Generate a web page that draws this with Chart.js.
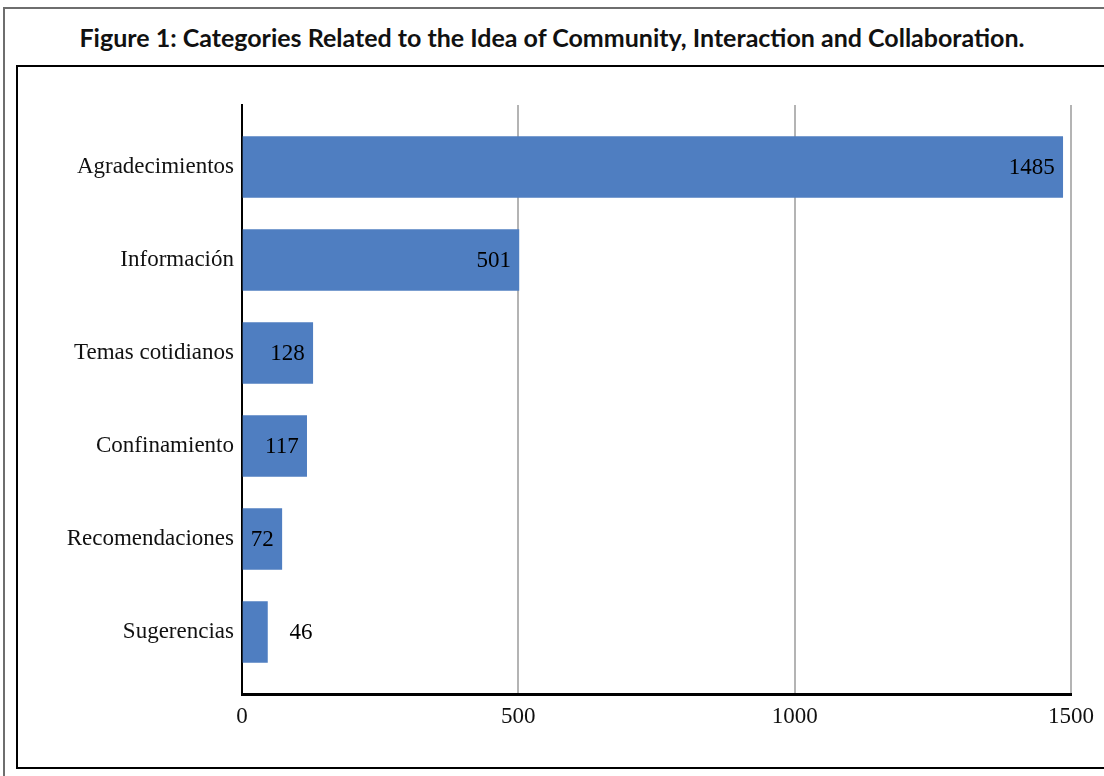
<!DOCTYPE html>
<html>
<head>
<meta charset="utf-8">
<script src="https://cdn.jsdelivr.net/npm/chart.js@4"></script>
<style>
  html, body { margin: 0; padding: 0; background: #fff; width: 1104px; height: 776px; overflow: hidden; }
  #outer { position: absolute; left: 3px; top: 7px; width: 1200px; height: 900px; border-left: 2px solid #6e6e6e; border-top: 2px solid #6e6e6e; }
  #inner { position: absolute; left: 16px; top: 65px; width: 1200px; height: 700px; border: 2px solid #000; pointer-events: none; }
  #title { position: absolute; left: 0; top: 22px; width: 1104px; text-align: center; font-family: 'Lato', sans-serif; font-weight: bold; font-size: 25px; color: #111; }
  #wrap { position: absolute; left: 0; top: 0; width: 1104px; height: 776px; }
</style>
</head>
<body>
<div id="outer"></div>
<div id="title">Figure 1: Categories Related to the Idea of Community, Interaction and Collaboration.</div>
<div id="wrap"><canvas id="c"></canvas></div>
<div id="inner"></div>
<script>
const categories = ['Agradecimientos', 'Información', 'Temas cotidianos', 'Confinamiento', 'Recomendaciones', 'Sugerencias'];
const values = [1485, 501, 128, 117, 72, 46];
const xTicks = [0, 500, 1000, 1500];

const labelFont = '23px "Liberation Serif", serif';

const valueLabels = {
  id: 'valueLabels',
  afterDatasetsDraw(chart) {
    const ctx = chart.ctx;
    const meta = chart.getDatasetMeta(0);
    ctx.save();
    ctx.font = labelFont;
    ctx.fillStyle = '#000';
    ctx.textBaseline = 'middle';
    meta.data.forEach((bar, i) => {
      const txt = String(values[i]);
      const w = ctx.measureText(txt).width;
      const barW = bar.x - bar.base;
      if (barW > w + 12) {
        ctx.textAlign = 'right';
        ctx.fillText(txt, bar.x - 8, bar.y + 1);
      } else {
        ctx.textAlign = 'left';
        ctx.fillText(txt, bar.x + 22, bar.y + 1);
      }
    });
    ctx.restore();
  }
};

new Chart(document.getElementById('c'), {
  type: 'bar',
  data: {
    datasets: [{
      data: values.map((v, i) => ({ x: v, y: i })),
      backgroundColor: '#4f7ec1',
      borderWidth: 0,
      barThickness: 61
    }]
  },
  options: {
    indexAxis: 'y',
    responsive: true,
    maintainAspectRatio: false,
    animation: false,
    layout: { padding: { top: 105, right: 33, left: 0, bottom: 0 } },
    plugins: { legend: { display: false }, tooltip: { enabled: false }, title: { display: false } },
    scales: {
      x: {
        type: 'linear',
        min: 0, max: 1500,
        afterBuildTicks: s => { s.ticks = xTicks.map(v => ({ value: v })); s.min = 0; s.max = 1500; },
        afterFit: s => { s.height = 82; },
        grid: { color: '#b4b4b4', lineWidth: 2, drawTicks: false },
        border: { display: true, color: '#000', width: 3 },
        ticks: { color: '#111', font: { family: '"Liberation Serif", serif', size: 23 }, padding: 9, callback: v => String(v) }
      },
      y: {
        type: 'linear',
        reverse: true,
        offset: false,
        bounds: 'data',
        min: -0.667, max: 5.667,
        afterBuildTicks: s => { s.ticks = categories.map((c, i) => ({ value: i })); s.min = -0.667; s.max = 5.667; },
        afterFit: s => { s.width = 242; },
        grid: { display: false, drawTicks: false, offset: false },
        border: { display: true, color: '#000', width: 2 },
        ticks: {
          color: '#111',
          font: { family: '"Liberation Serif", serif', size: 23 },
          padding: 8,
          callback: v => categories[v] ?? ''
        }
      }
    }
  },
  plugins: [valueLabels]
});
</script>
</body>
</html>
